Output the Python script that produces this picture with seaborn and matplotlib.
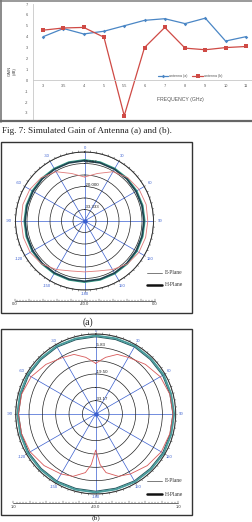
import numpy as np
import pandas as pd
import matplotlib
matplotlib.use("Agg")
import matplotlib.pyplot as plt
from matplotlib.patches import Rectangle
import seaborn as sns

# ---------------- data: simulated gain ----------------
freq_labels = ["3", "3.5", "4", "5", "5.5", "6", "7", "8", "9", "10", "11"]
gain_a = [4.0, 4.75, 4.25, 4.5, 5.0, 5.5, 5.65, 5.2, 5.7, 3.6, 4.0]
gain_b = [4.6, 4.8, 4.85, 3.95, -3.25, 3.0, 4.85, 2.95, 2.8, 3.0, 3.1]
series_names = ["antenna (a)", "antenna (b)"]
gain_yticks = [-3, -2, -1, 0, 1, 2, 3, 4, 5, 6, 7]

# ---------------- data: radiation patterns (dB) ----------------
ang_a = [0, 15, 30, 45, 60, 75, 90, 105, 120, 135, 150, 165, 180,
         195, 210, 225, 240, 255, 270, 285, 300, 315, 330, 345, 360]
e_plane_a = [-14.5, -11.5, -7.0, -4.5, -3.4, -3.0, -3.3, -3.3, -3.6, -4.8, -7.5, -10.0, -10.5,
             -10.0, -7.5, -4.8, -3.6, -3.3, -3.3, -3.0, -3.4, -4.5, -7.0, -11.5, -14.5]
h_plane_a = [-5.0, -5.1, -5.3, -5.4, -5.5, -5.5, -5.5, -5.5, -5.4, -5.3, -5.2, -5.1, -5.0,
             -5.1, -5.2, -5.3, -5.4, -5.5, -5.5, -5.5, -5.5, -5.4, -5.3, -5.1, -5.0]
h_plane_a2 = [-4.4, -4.5, -4.7, -4.8, -4.9, -4.9, -4.9, -4.9, -4.8, -4.7, -4.6, -4.5, -4.4,
              -4.5, -4.6, -4.7, -4.8, -4.9, -4.9, -4.9, -4.9, -4.8, -4.7, -4.5, -4.4]
ring_ticks_a = [-33.333, -26.667, -20.0, -13.333, -6.667, 0.0]
ring_labels_a = ["-33.333", "", "-20.000", "", "-6.667", ""]
scale_labels_a = ["0.0", "-40.0", "0.0"]

ang_b = [0, 10, 20, 30, 45, 60, 75, 90, 105, 120, 135, 150, 160, 170, 175, 180,
         185, 190, 200, 210, 225, 240, 255, 270, 285, 300, 315, 330, 340, 350, 360]
e_plane_b = [-14.0, -10.5, -7.5, -6.5, -4.0, -1.8, -0.7, -0.4, -0.7, -1.2, -2.6, -4.5, -6.0, -9.5, -14.0, -21.5,
             -14.0, -9.5, -6.0, -4.5, -2.6, -1.2, -0.7, -0.4, -0.7, -1.8, -4.0, -6.5, -7.5, -10.5, -14.0]
ang_hb = [0, 15, 30, 45, 60, 75, 90, 105, 120, 135, 150, 165, 180,
          195, 210, 225, 240, 255, 270, 285, 300, 315, 330, 345, 360]
h_plane_b = [0.2, 0.1, 0.3, 0.1, 0.2, 0.0, 0.2, 0.1, 0.3, 0.1, 0.2, 0.0, 0.2,
             0.1, 0.3, 0.1, 0.2, 0.0, 0.2, 0.1, 0.3, 0.1, 0.2, 0.0, 0.2]
h_plane_b2 = [-0.4, -0.5, -0.3, -0.5, -0.4, -0.6, -0.4, -0.5, -0.3, -0.5, -0.4, -0.6, -0.4,
              -0.5, -0.3, -0.5, -0.4, -0.6, -0.4, -0.5, -0.3, -0.5, -0.4, -0.6, -0.4]
ring_ticks_b = [-33.17, -26.33, -19.5, -12.67, -5.83, 1.0]
ring_labels_b = ["-33.17", "", "-19.50", "", "-5.83", ""]
scale_labels_b = ["1.0", "-40.0", "1.0"]

theta_tick_deg = [0, 30, 60, 90, 120, 150, 180, 210, 240, 270, 300, 330]
theta_tick_lbl = ["0", "30", "60", "90", "120", "150", "-180", "-150", "-120", "-90", "-60", "-30"]

# ---------------- figure ----------------
W, H = 252, 522
sns.set_style("white")
plt.rcParams["font.family"] = ["Liberation Sans", "DejaVu Sans"]
fig = plt.figure(figsize=(W / 100, H / 100), dpi=100)
fig.patch.set_facecolor("white")


def px_rect(x0, top, w, h):
    return [x0 / W, 1 - (top + h) / H, w / W, h / H]


# overlay for texts / frames in pixel coordinates
ov = fig.add_axes([0, 0, 1, 1])
ov.set_xlim(0, W)
ov.set_ylim(H, 0)
ov.axis("off")
ov.patch.set_alpha(0)
ov.set_zorder(10)

# ---------------- top line chart ----------------
BLUE = "#4a86c5"
RED = "#cf4a45"
ax = fig.add_axes(px_rect(33, 4, 223, 115.5))
ax.patch.set_alpha(0)
xi = list(range(len(freq_labels)))
df = pd.DataFrame({"idx": xi * 2, "gain": gain_a + gain_b,
                   "antenna": [series_names[0]] * len(xi) + [series_names[1]] * len(xi)})
sns.lineplot(data=df[df.antenna == series_names[0]], x="idx", y="gain", color=BLUE, lw=0.9,
             marker="D", markersize=1.8, markeredgewidth=0, label=series_names[0], ax=ax)
sns.lineplot(data=df[df.antenna == series_names[1]], x="idx", y="gain", color=RED, lw=0.9,
             marker="s", markersize=2.6, markeredgewidth=0, label=series_names[1], ax=ax)
ax.set_xlim(-0.5, 10.5)
ax.set_ylim(-3.6, 7.0)
ax.set_xticks(xi)
ax.set_xticklabels(freq_labels)
ax.set_yticks(gain_yticks)
ax.set_yticklabels([str(v) for v in gain_yticks])
ax.set_xlabel("")
ax.set_ylabel("")
for s in ["top", "right"]:
    ax.spines[s].set_visible(False)
ax.spines["left"].set_color("#c8c8c8")
ax.spines["left"].set_linewidth(0.6)
ax.spines["bottom"].set_position(("data", 0))
ax.spines["bottom"].set_color("#c8c8c8")
ax.spines["bottom"].set_linewidth(0.6)
ax.tick_params(length=0, labelsize=2.8, colors="#555555")
ax.tick_params(axis="y", pad=3.5)
ax.tick_params(axis="x", pad=2.5)
ax.grid(False)
leg = ax.legend(loc="center", bbox_to_anchor=(190 / W, 1 - 76 / H), bbox_transform=fig.transFigure,
                ncol=2, frameon=False, fontsize=2.6, handlelength=3.0, columnspacing=1.2,
                handletextpad=0.3, borderpad=0)
for t in leg.get_texts():
    t.set_color("#555555")

ov.text(12, 71, "GAIN\n(dB)", rotation=90, ha="center", va="center", fontsize=3.0,
        multialignment="center", color="#444444", linespacing=1.2)
ov.text(180, 99, "FREQUENCY (GHz)", ha="center", va="center", fontsize=3.7, color="#555555")

# chart frame
ov.plot([0, W], [1, 1], color="#9a9a9a", lw=1.4)
ov.plot([0.7, 0.7], [0, 121.5], color="#777777", lw=1.2)
ov.plot([0, W], [121.3, 121.3], color="#666666", lw=1.6)

ov.text(2, 131, "Fig. 7: Simulated Gain of Antenna (a) and (b).", ha="left", va="center",
        fontsize=6.6, family=["Liberation Serif", "DejaVu Serif"], color="#222222")

# ---------------- polar plots ----------------
SPOKE = "#3a5fd0"


def polar_panel(cx, cy, R, rmin, rmax, rings, ring_lbls, angles, e_vals, h_vals, h_vals2,
                h_angles, lab_off, h_col1, h_col2, h_lw1, h_lw2, e_col):
    pax = fig.add_axes(px_rect(cx - R, cy - R, 2 * R, 2 * R), projection="polar")
    pax.patch.set_alpha(0)
    pax.set_theta_zero_location("N")
    pax.set_theta_direction(-1)
    th_e = np.deg2rad(angles)
    th_h = np.deg2rad(h_angles)
    sns.lineplot(x=th_h, y=h_vals2, sort=False, estimator=None, color=h_col2, lw=h_lw2, ax=pax)
    sns.lineplot(x=th_h, y=h_vals, sort=False, estimator=None, color=h_col1, lw=h_lw1, ax=pax)
    sns.lineplot(x=th_e, y=e_vals, sort=False, estimator=None, color=e_col, lw=0.6, ax=pax)
    pax.set_ylim(rmin, rmax)
    pax.set_xticks(np.deg2rad(theta_tick_deg))
    pax.set_xticklabels([])
    pax.set_yticks(rings)
    pax.set_yticklabels([])
    pax.set_xlabel("")
    pax.set_ylabel("")
    pax.xaxis.grid(True, color=SPOKE, lw=0.5)
    pax.yaxis.grid(True, color="#222222", lw=0.5)
    pax.spines["polar"].set_color("#333333")
    pax.spines["polar"].set_linewidth(0.7)
    pax.tick_params(length=0)
    span = rmax - rmin
    # outer ruler ticks
    tk = np.deg2rad(np.arange(0, 360, 5))
    pax.vlines(tk, rmax, rmax + span * 1.6 / R, color="#444444", lw=0.4, clip_on=False)
    # centre dot
    pax.plot([0], [rmin], "o", ms=2.2, color=SPOKE, clip_on=False)
    # angle labels
    for d, s in zip(theta_tick_deg, theta_tick_lbl):
        rr = rmax + span * (lab_off + 3.0 * abs(np.sin(np.deg2rad(d)))) / R
        pax.text(np.deg2rad(d), rr, s, ha="center", va="center", fontsize=3.0,
                 color=SPOKE, clip_on=False)
    # ring labels
    for r, s in zip(rings, ring_lbls):
        if s:
            pax.text(0.0, r, s, ha="left", va="bottom", fontsize=3.2, color="#222222")
    return pax


polar_panel(84.5, 221, 69, -40, 0, ring_ticks_a, ring_labels_a, ang_a, e_plane_a,
            h_plane_a, h_plane_a2, ang_a, 4.0, "#1e4450", "#3aa58c", 1.3, 0.8, "#e07a7a")
polar_panel(95.7, 414, 80, -40, 1.0, ring_ticks_b, ring_labels_b, ang_b, e_plane_b,
            h_plane_b, h_plane_b2, ang_hb, 2.5, "#4a9c9c", "#27545c", 1.4, 0.8, "#d85a5a")

# frames, legends, scale bars
serif = ["Liberation Serif", "DejaVu Serif"]


def frame(top, bottom):
    ov.add_patch(Rectangle((0.6, top), 191.2, bottom - top, fill=False, ec="#333333", lw=1.0))


def legend_box(y1, y2):
    ov.plot([147, 162], [y1, y1], color="#666666", lw=0.6)
    ov.text(165, y1, "E-Plane", ha="left", va="center", fontsize=4.0, family=serif, color="#333333")
    ov.plot([147, 162], [y2, y2], color="#111111", lw=1.8)
    ov.text(165, y2, "H-Plane", ha="left", va="center", fontsize=4.0, family=serif, color="#333333")


def scale_bar(cx, half, y, labels):
    x0, x1 = cx - half, cx + half
    ov.plot([x0, x1], [y, y], color="#333333", lw=0.5)
    n = 50
    for i in range(n + 1):
        x = x0 + (x1 - x0) * i / n
        ln = 2.2 if i % 5 == 0 else 1.3
        ov.plot([x, x], [y, y - ln], color="#333333", lw=0.35)
    for x, s in zip([x0, cx, x1], labels):
        ov.text(x, y + 3.6, s, ha="center", va="center", fontsize=3.0, color="#333333")


frame(142, 313)
legend_box(273, 285)
scale_bar(84.5, 70, 300.8, scale_labels_a)
ov.text(88, 322, "(a)", ha="center", va="center", fontsize=7, family=serif, color="#222222")

frame(329, 515)
legend_box(481, 494)
scale_bar(95.7, 82.5, 503.3, scale_labels_b)
ov.text(96, 518.6, "(b)", ha="center", va="center", fontsize=5.4, family=serif, color="#222222")

fig.savefig("out.png", dpi=100)
